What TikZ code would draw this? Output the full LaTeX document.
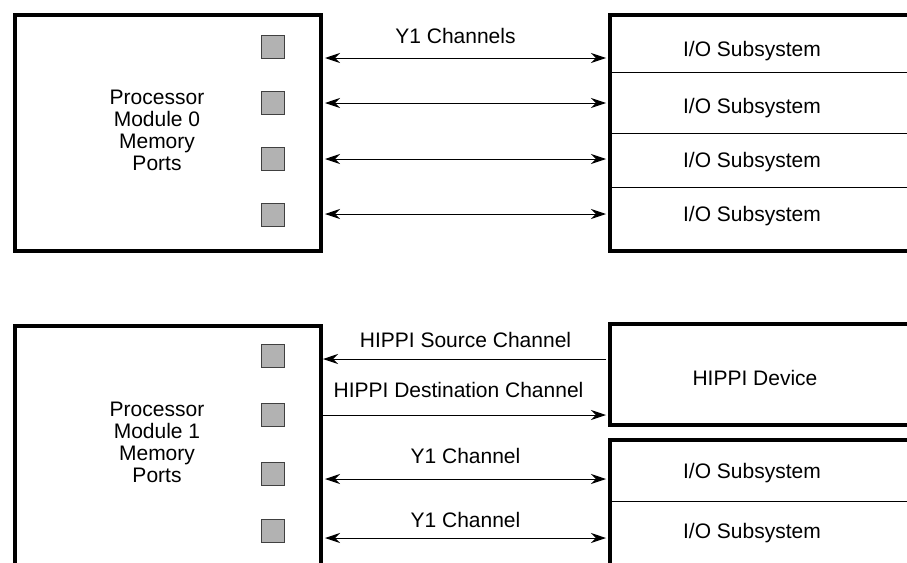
\documentclass[tikz,border=0pt]{standalone}
\usepackage{fontspec}
\setmainfont{Liberation Sans}
\usetikzlibrary{arrows.meta}
\tikzset{
module/.style={draw, line width=4pt, minimum width=306pt, inner sep=0pt}, % thick outline of a unit
port/.style={draw=black!75, fill=black!30, line width=1pt, minimum size=23pt, inner sep=0pt}, % memory port
chan/.style={line width=1pt, shorten <=2pt, shorten >=2pt}, % channel line
>={Stealth[length=15pt, width=10pt]}, % arrow heads
lbl/.style={font=\fontsize{21}{22}\selectfont, align=center}, % all text
}

\begin{document}
\begin{tikzpicture}[x=1pt, y=-1pt]
    \useasboundingbox (0,0) rectangle (907,562);

    % Processor module 0 and its I/O
    \node[module, minimum height=236pt, anchor=north west] (pm0) at (13,13) {};
    \node[lbl] (t0) at (157,130) {Processor\\Module 0\\Memory\\Ports};
    \foreach \y [count=\i] in {47,103,159,215}
        \node[port] (p0\i) at (272.5,\y) {};
    \node[module, minimum height=236pt, anchor=north west] (io0) at (608,13) {};
    \foreach \y in {72,133,187}
        \draw[line width=1pt] (io0.west |- 0,\y) -- (io0.east |- 0,\y);
    \foreach \y [count=\i] in {51,108,162,216}
        \node[lbl] (s0\i) at (752,\y) {I/O Subsystem};
    \draw[chan, <->] (pm0.east |- 0,58) -- (io0.west |- 0,58)
        node[lbl, midway, above=10pt, xshift=-10pt] (y0) {Y1 Channels};
    \foreach \y in {103,159,214}
        \draw[chan, <->] (pm0.east |- 0,\y) -- (io0.west |- 0,\y);

    % Processor module 1 with HIPPI device
    \node[module, minimum height=260pt, anchor=north west] (pm1) at (13,324) {};
    \node[lbl] (t1) at (157,442) {Processor\\Module 1\\Memory\\Ports};
    \foreach \y [count=\i] in {356,415,474,531}
        \node[port] (p1\i) at (272.5,\y) {};
    \node[module, minimum height=101pt, anchor=north west] (hd) at (608,322) {};
    \node[lbl] (hdt) at (755,378) {HIPPI Device};
    \node[module, minimum height=160pt, anchor=north west] (io1) at (608,438) {};
    \draw[line width=1pt] (io1.west |- 0,501) -- (io1.east |- 0,501);
    \node[lbl] (s11) at (752,473) {I/O Subsystem};
    \node[lbl] (s12) at (752,533) {I/O Subsystem};
    \draw[chan, ->, shorten >=0pt] (hd.west |- 0,359) -- (pm1.east |- 0,359)
        node[lbl, midway, above=7pt] (hs) {HIPPI Source Channel};
    \draw[chan, ->, shorten <=0pt] (pm1.east |- 0,415) -- (hd.west |- 0,415)
        node[lbl, midway, above=13pt, xshift=-7pt] (hds) {HIPPI Destination Channel};
    \draw[chan, <->] (pm1.east |- 0,479) -- (io1.west |- 0,479)
        node[lbl, midway, above=11pt] (y11) {Y1 Channel};
    \draw[chan, <->] (pm1.east |- 0,538) -- (io1.west |- 0,538)
        node[lbl, midway, above=6pt] (y12) {Y1 Channel};
\end{tikzpicture}
\end{document}
